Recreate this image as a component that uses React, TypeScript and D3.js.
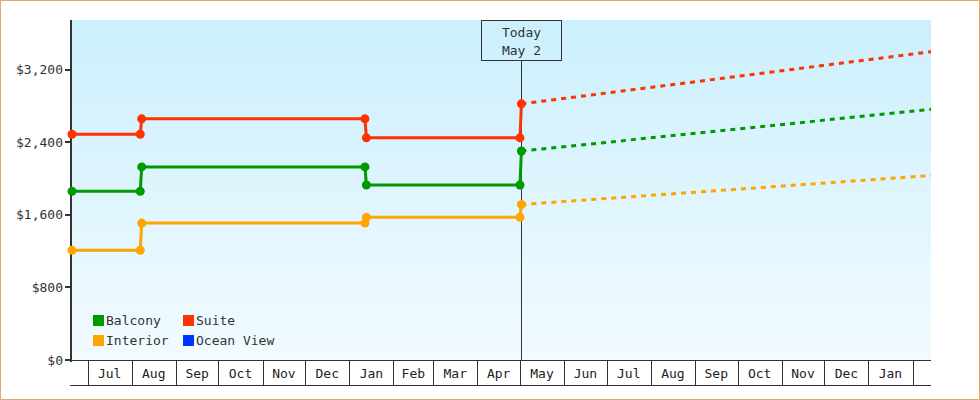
import React, { useEffect, useRef } from "react";
import * as d3 from "d3";

// chart data
const seriesNames = ["Balcony", "Suite", "Interior", "Ocean View"];
const seriesColors = ["#009900", "#ff3300", "#ffa500", "#0033ff"];

// step points (date, price) for the history part
const balconyHistory: [string, number][] = [
	["2022-06-20", 1860],
	["2022-08-07", 1860],
	["2022-08-08", 2130],
	["2023-01-12", 2130],
	["2023-01-13", 1930],
	["2023-05-01", 1930],
	["2023-05-02", 2305],
];
const suiteHistory: [string, number][] = [
	["2022-06-20", 2490],
	["2022-08-07", 2490],
	["2022-08-08", 2660],
	["2023-01-12", 2660],
	["2023-01-13", 2450],
	["2023-05-01", 2450],
	["2023-05-02", 2825],
];
const interiorHistory: [string, number][] = [
	["2022-06-20", 1210],
	["2022-08-07", 1210],
	["2022-08-08", 1510],
	["2023-01-12", 1510],
	["2023-01-13", 1575],
	["2023-05-01", 1575],
	["2023-05-02", 1715],
];
const oceanViewHistory: [string, number][] = [];

// projections after today
const balconyForecast: [string, number][] = [
	["2023-05-02", 2305],
	["2024-02-14", 2765],
];
const suiteForecast: [string, number][] = [
	["2023-05-02", 2825],
	["2024-02-14", 3400],
];
const interiorForecast: [string, number][] = [
	["2023-05-02", 1715],
	["2024-02-14", 2035],
];
const oceanViewForecast: [string, number][] = [];

const yTicks = [0, 800, 1600, 2400, 3200];
const startDate = "2022-06-20";
const endDate = "2024-02-14";
const todayDate = "2023-05-02";
const todayLabel = ["Today", "May 2"];

const W = 980;
const H = 400;
const FONT = "'DejaVu Sans Mono', monospace";

export default function App() {
	const svgRef = useRef<SVGSVGElement | null>(null);

	useEffect(() => {
		const svg = d3.select(svgRef.current);
		svg.selectAll("*").remove();

		const parse = d3.timeParse("%Y-%m-%d");
		const left = 72;
		const right = 931;
		const top = 20;
		const bottom = 360;

		const x = d3
			.scaleTime()
			.domain([parse(startDate)!, parse(endDate)!])
			.range([left, right]);
		const y = d3.scaleLinear().domain([0, 3750]).range([bottom, top]);

		// outer border
		svg
			.append("rect")
			.attr("x", 0.5)
			.attr("y", 0.5)
			.attr("width", W - 1)
			.attr("height", H - 1)
			.attr("fill", "#fff")
			.attr("stroke", "#e8a865");

		const defs = svg.append("defs");
		const grad = defs
			.append("linearGradient")
			.attr("id", "bg")
			.attr("x1", 0)
			.attr("y1", 0)
			.attr("x2", 0)
			.attr("y2", 1);
		grad.append("stop").attr("offset", "0%").attr("stop-color", "#cbeffc");
		grad.append("stop").attr("offset", "100%").attr("stop-color", "#f2fbff");

		svg
			.append("rect")
			.attr("x", left)
			.attr("y", top)
			.attr("width", right - left)
			.attr("height", bottom - top)
			.attr("fill", "url(#bg)");

		// month band under the plot
		const months = d3.timeMonth.range(x.domain()[0], x.domain()[1]);
		const edges = [x.domain()[0], ...months, x.domain()[1]];
		const band = svg.append("g");
		band
			.append("line")
			.attr("x1", left - 2)
			.attr("x2", right)
			.attr("y1", 385.5)
			.attr("y2", 385.5)
			.attr("stroke", "#333");
		months.forEach((m) => {
			band
				.append("line")
				.attr("x1", Math.round(x(m)) + 0.5)
				.attr("x2", Math.round(x(m)) + 0.5)
				.attr("y1", bottom)
				.attr("y2", 385)
				.attr("stroke", "#333");
		});
		for (let i = 0; i < edges.length - 1; i++) {
			const a = x(edges[i]);
			const b = x(edges[i + 1]);
			if (b - a < 30) continue;
			band
				.append("text")
				.attr("x", (a + b) / 2)
				.attr("y", 378)
				.attr("text-anchor", "middle")
				.attr("font-family", FONT)
				.attr("font-size", 13)
				.attr("fill", "#222")
				.text(d3.timeFormat("%b")(edges[i]));
		}

		// x axis line
		svg
			.append("line")
			.attr("x1", left - 2)
			.attr("x2", right)
			.attr("y1", bottom + 0.5)
			.attr("y2", bottom + 0.5)
			.attr("stroke", "#333");

		// y axis
		const yAxis = svg.append("g");
		yAxis
			.append("line")
			.attr("x1", left - 1)
			.attr("x2", left - 1)
			.attr("y1", top)
			.attr("y2", bottom + 2)
			.attr("stroke", "#333")
			.attr("stroke-width", 2);
		yTicks.forEach((t) => {
			yAxis
				.append("line")
				.attr("x1", left - 7)
				.attr("x2", left - 1)
				.attr("y1", Math.round(y(t)))
				.attr("y2", Math.round(y(t)))
				.attr("stroke", "#333")
				.attr("stroke-width", 2);
			yAxis
				.append("text")
				.attr("x", left - 9)
				.attr("y", y(t) + 4.5)
				.attr("text-anchor", "end")
				.attr("font-family", FONT)
				.attr("font-size", 13)
				.attr("fill", "#333")
				.text(d3.format("$,")(t));
		});

		// today marker
		const tx = Math.round(x(parse(todayDate)!)) + 0.5;
		svg
			.append("line")
			.attr("x1", tx)
			.attr("x2", tx)
			.attr("y1", 60)
			.attr("y2", bottom)
			.attr("stroke", "#333");
		svg
			.append("rect")
			.attr("x", tx - 40)
			.attr("y", top + 0.5)
			.attr("width", 80)
			.attr("height", 40)
			.attr("fill", "none")
			.attr("stroke", "#333");
		todayLabel.forEach((s, i) => {
			svg
				.append("text")
				.attr("x", tx)
				.attr("y", 37 + i * 18)
				.attr("text-anchor", "middle")
				.attr("font-family", FONT)
				.attr("font-size", 13)
				.attr("fill", "#333")
				.text(s);
		});

		// series lines
		const histories = [balconyHistory, suiteHistory, interiorHistory, oceanViewHistory];
		const forecasts = [balconyForecast, suiteForecast, interiorForecast, oceanViewForecast];
		const line = d3
			.line<[string, number]>()
			.x((d) => x(parse(d[0])!))
			.y((d) => y(d[1]));

		const order = [2, 0, 1, 3];
		order.forEach((i) => {
			if (forecasts[i].length) {
				svg
					.append("path")
					.attr("d", line(forecasts[i]))
					.attr("fill", "none")
					.attr("stroke", seriesColors[i])
					.attr("stroke-width", 3)
					.attr("stroke-dasharray", "5,5");
			}
			if (histories[i].length) {
				svg
					.append("path")
					.attr("d", line(histories[i]))
					.attr("fill", "none")
					.attr("stroke", seriesColors[i])
					.attr("stroke-width", 3);
				svg
					.append("g")
					.selectAll("circle")
					.data(histories[i])
					.join("circle")
					.attr("cx", (d) => x(parse(d[0])!))
					.attr("cy", (d) => y(d[1]))
					.attr("r", 4.5)
					.attr("fill", seriesColors[i]);
			}
		});

		// legend
		const legend = svg.append("g");
		seriesNames.forEach((name, i) => {
			const col = i % 2;
			const row = Math.floor(i / 2);
			const lx = 93 + col * 90;
			const ly = 315 + row * 20;
			legend
				.append("rect")
				.attr("x", lx)
				.attr("y", ly)
				.attr("width", 11)
				.attr("height", 11)
				.attr("fill", seriesColors[i]);
			legend
				.append("text")
				.attr("x", lx + 13)
				.attr("y", ly + 10)
				.attr("font-family", FONT)
				.attr("font-size", 13)
				.attr("fill", "#333")
				.text(name);
		});
	}, []);

	return (
		<div style={{ position: "fixed", left: 0, top: 0 }}>
			<svg ref={svgRef} width={W} height={H} style={{ display: "block" }} />
		</div>
	);
}
